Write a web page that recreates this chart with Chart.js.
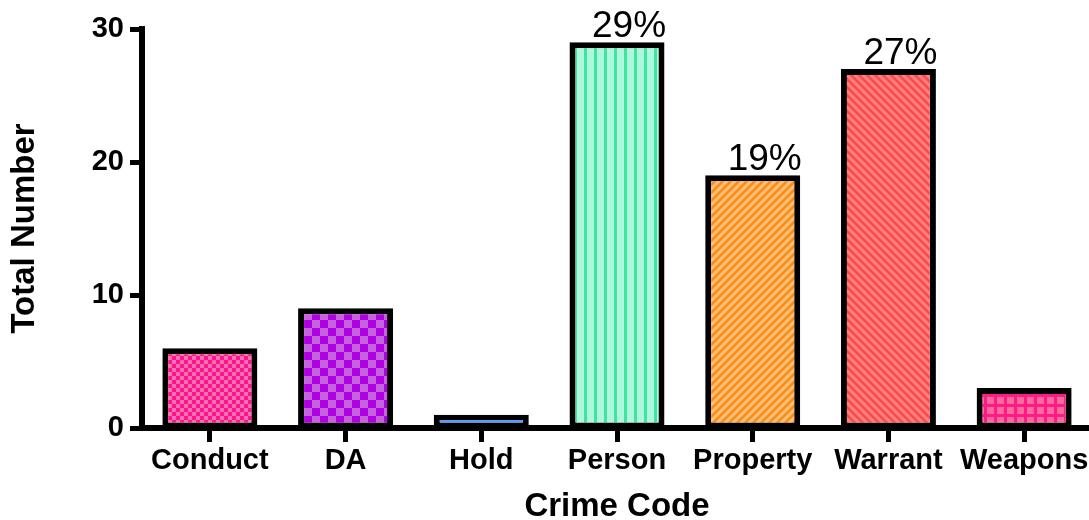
<!DOCTYPE html>
<html>
<head>
<meta charset="utf-8">
<script src="https://cdn.jsdelivr.net/npm/chart.js@4.4.1/dist/chart.umd.min.js"></script>
<style>
  html, body { margin: 0; padding: 0; background: #fff; overflow: hidden; }
  #wrap { width: 1096px; height: 520px; }
</style>
</head>
<body>
<div id="wrap"><canvas id="crimeChart"></canvas></div>
<script>
// --- data ---
const crimeCodes = ["Conduct", "DA", "Hold", "Person", "Property", "Warrant", "Weapons"];
const totals = [6, 9, 1, 29, 19, 27, 3];
const pctLabels = ["", "", "", "29%", "19%", "27%", ""];
const yTicks = [0, 10, 20, 30];

const FONT = "'Liberation Sans', Arial, Helvetica, sans-serif";

// ------------------- PATTERNS -------------------

function makePattern(w, h, draw) {
  const c = document.createElement('canvas');
  c.width = w; c.height = h;
  const g = c.getContext('2d');
  draw(g, w, h);
  return c.getContext('2d').createPattern(c, 'repeat');
}

function checker(size, a, b) {
  return makePattern(size * 2, size * 2, (g) => {
    g.fillStyle = a; g.fillRect(0, 0, size * 2, size * 2);
    g.fillStyle = b;
    g.fillRect(0, 0, size, size);
    g.fillRect(size, size, size, size);
  });
}

function diagonal(period, bg, fg, dir) {
  return makePattern(period, period, (g, w, h) => {
    g.fillStyle = bg; g.fillRect(0, 0, w, h);
    g.strokeStyle = fg; g.lineWidth = 2.6;
    g.beginPath();
    if (dir > 0) { // "/"
      g.moveTo(-w, h * 2); g.lineTo(w * 2, -h);
      g.moveTo(-w, h); g.lineTo(w, -h);
      g.moveTo(0, h * 2); g.lineTo(w * 2, 0);
    } else { // "\"
      g.moveTo(-w, -h); g.lineTo(w * 2, h * 2);
      g.moveTo(-w, 0); g.lineTo(w, h * 2);
      g.moveTo(0, -h); g.lineTo(w * 2, h);
    }
    g.stroke();
  });
}

const fills = [
  checker(4, '#ff70b0', '#ff1490'),
  checker(8, '#c662dc', '#b000e4'),
  makePattern(8, 8, (g) => { g.fillStyle = '#5a9cff'; g.fillRect(0, 0, 8, 8); g.fillStyle = '#4a5cf8'; g.fillRect(0, 7, 8, 1); }),
  makePattern(10, 10, (g) => { g.fillStyle = '#aef6dc'; g.fillRect(0, 0, 10, 10); g.fillStyle = '#3de6a0'; g.fillRect(4, 0, 3, 10); }),
  diagonal(8, '#ffc07c', '#ff8a10', 1),
  diagonal(8, '#ff8080', '#ff4848', -1),
  makePattern(10, 10, (g) => { g.fillStyle = '#ff6a9c'; g.fillRect(0, 0, 10, 10); g.fillStyle = '#ff1a88'; g.fillRect(4, 0, 3, 10); g.fillRect(0, 4, 10, 3); })
];

// ------------------- LABELS ON BARS -------------------

const pctPlugin = {
  id: 'pctLabels',
  afterDatasetsDraw(chart) {
    const ctx = chart.ctx;
    const meta = chart.getDatasetMeta(0);
    ctx.save();
    ctx.font = "37px " + FONT;
    ctx.fillStyle = '#000';
    ctx.textAlign = 'center';
    ctx.textBaseline = 'alphabetic';
    meta.data.forEach((bar, i) => {
      if (!pctLabels[i]) return;
      ctx.fillText(pctLabels[i], bar.x + 12, bar.y - 5);
    });
    ctx.restore();
  }
};

// ------------------- CHART -------------------

new Chart(document.getElementById('crimeChart'), {
  type: 'bar',
  data: {
    labels: crimeCodes,
    datasets: [{
      data: totals,
      backgroundColor: fills,
      borderColor: '#000',
      borderWidth: { top: 6, left: 6, right: 6, bottom: 3 },
      borderSkipped: false,
      barPercentage: 0.7,
      categoryPercentage: 1
    }]
  },
  options: {
    responsive: true,
    maintainAspectRatio: false,
    animation: false,
    layout: { padding: { top: 29, right: 4, left: 0, bottom: 0 } },
    plugins: { legend: { display: false }, tooltip: { enabled: false } },
    scales: {
      x: {
        grid: { offset: false, drawOnChartArea: false, drawTicks: true, tickLength: 14, lineWidth: 5, color: '#000' },
        border: { display: true, color: '#000', width: 6 },
        ticks: { color: '#000', padding: 2, font: { family: FONT, size: 29, weight: 'bold' }, maxRotation: 0, autoSkip: false },
        title: { display: true, text: 'Crime Code', color: '#000', font: { family: FONT, size: 33, weight: 'bold', lineHeight: 1 }, padding: { top: 0, bottom: -3 } },
        afterFit: (scale) => { scale.height = 92; }
      },
      y: {
        min: 0,
        max: 30,
        afterBuildTicks: (scale) => { scale.ticks = yTicks.map(v => ({ value: v })); },
        grid: { drawOnChartArea: false, drawTicks: true, tickLength: 12, lineWidth: 5, color: '#000' },
        border: { display: true, color: '#000', width: 6 },
        ticks: { color: '#000', padding: 6, font: { family: FONT, size: 29, weight: 'bold' } },
        title: { display: true, text: 'Total Number', color: '#000', font: { family: FONT, size: 33, weight: 'bold', lineHeight: 1 }, padding: { top: 8, bottom: 0 } },
        afterFit: (scale) => { scale.width = 142; }
      }
    }
  },
  plugins: [pctPlugin]
});
</script>
</body>
</html>
